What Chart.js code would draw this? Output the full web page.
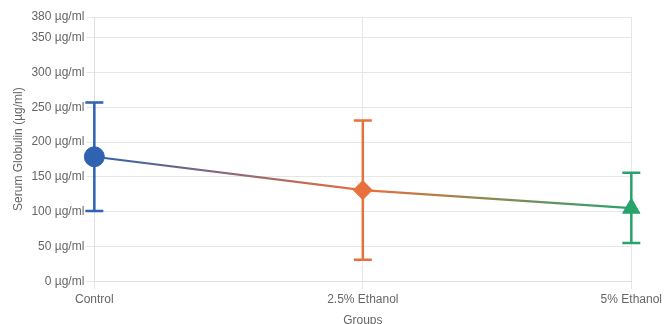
<!DOCTYPE html>
<html>
<head>
<meta charset="utf-8">
<script src="https://cdn.jsdelivr.net/npm/chart.js@4/dist/chart.umd.min.js"></script>
<style>
  html, body { margin: 0; padding: 0; background: #fff; overflow: hidden; }
  #wrap { width: 665px; height: 332px; position: relative; }
</style>
</head>
<body>
<div id="wrap"><canvas id="c"></canvas></div>
<script>
// Serum globulin by group: mean with upper/lower error limits
const groups = ['Control', '2.5% Ethanol', '5% Ethanol'];
const meanValues = [179, 131, 105];
const lowerValues = [101, 31, 55];
const upperValues = [257, 231, 156];
const groupColors = ['#2f62b0', '#e8703c', '#27a36b'];
const groupShapes = ['circle', 'rectRot', 'triangle'];
const yTicks = [0, 50, 100, 150, 200, 250, 300, 350, 380];

// Draws vertical error bars with caps for each group
const errorBars = {
  id: 'errorBars',
  beforeDatasetsDraw(chart) {
    const { ctx, scales: { x, y } } = chart;
    ctx.save();
    ctx.lineWidth = 2.5;
    groups.forEach((g, i) => {
      const px = x.getPixelForValue(i);
      const top = y.getPixelForValue(upperValues[i]);
      const bot = y.getPixelForValue(lowerValues[i]);
      const cap = 9;
      ctx.strokeStyle = groupColors[i];
      ctx.beginPath();
      ctx.moveTo(px, top); ctx.lineTo(px, bot);
      ctx.moveTo(px - cap, top); ctx.lineTo(px + cap, top);
      ctx.moveTo(px - cap, bot); ctx.lineTo(px + cap, bot);
      ctx.stroke();
    });
    ctx.restore();
  }
};

function lineGradient(context) {
  const area = context.chart.chartArea;
  if (!area) return groupColors[0];
  const g = context.chart.ctx.createLinearGradient(area.left, 0, area.right, 0);
  g.addColorStop(0, groupColors[0]);
  g.addColorStop(0.5, groupColors[1]);
  g.addColorStop(1, groupColors[2]);
  return g;
}

new Chart(document.getElementById('c'), {
  type: 'line',
  data: {
    labels: groups,
    datasets: [{
      label: 'Serum Globulin',
      data: meanValues,
      borderColor: lineGradient,
      borderWidth: 2.2,
      tension: 0,
      pointStyle: groupShapes,
      pointRadius: [10, 9.5, 10],
      pointHoverRadius: [10, 9.5, 10],
      pointBackgroundColor: groupColors,
      pointBorderColor: groupColors,
      pointBorderWidth: 1
    }]
  },
  options: {
    responsive: true,
    maintainAspectRatio: false,
    animation: false,
    layout: { padding: { left: 7, right: 0, top: 17, bottom: 0 } },
    plugins: {
      legend: { display: false },
      tooltip: { enabled: false }
    },
    scales: {
      x: {
        offset: false,
        grid: { color: '#e6e6e6', tickLength: 8 },
        border: { color: '#e0e0e0' },
        ticks: { color: '#666', font: { family: 'Liberation Sans', size: 12 }, padding: 3, maxRotation: 0 },
        title: { display: true, text: 'Groups', color: '#666', font: { family: 'Liberation Sans', size: 12 }, padding: { top: 4 } }
      },
      y: {
        min: 0,
        max: 380,
        afterBuildTicks(scale) { scale.ticks = yTicks.map(v => ({ value: v })); },
        grid: { color: '#e6e6e6', tickLength: 8 },
        border: { color: '#e0e0e0' },
        ticks: {
          color: '#666',
          font: { family: 'Liberation Sans', size: 12 },
          padding: 2,
          callback: v => v + ' µg/ml'
        },
        title: { display: true, text: 'Serum Globulin (µg/ml)', color: '#666', font: { family: 'Liberation Sans', size: 12 }, padding: { bottom: 4 } }
      }
    }
  },
  plugins: [errorBars]
});
</script>
</body>
</html>
